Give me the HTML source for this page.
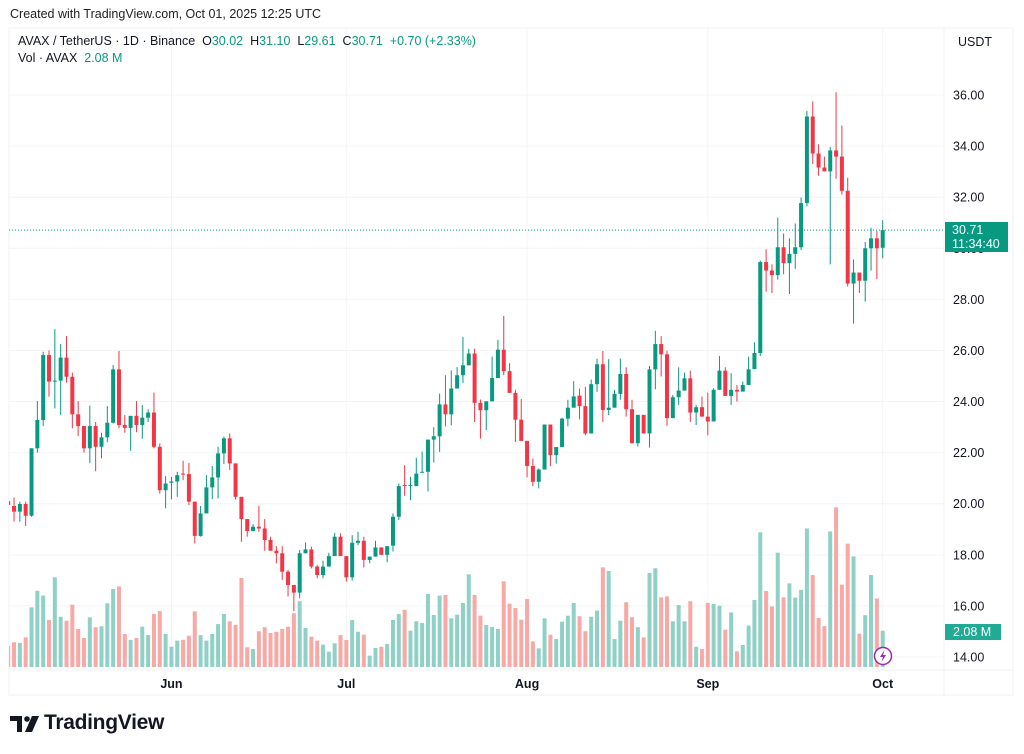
<!DOCTYPE html>
<html><head><meta charset="utf-8">
<style>
html,body{margin:0;padding:0;background:#fff;}
body{width:1024px;height:754px;position:relative;overflow:hidden;font-family:"Liberation Sans",Arial,sans-serif;}
.t{position:absolute;white-space:nowrap;}
</style></head>
<body>
<div class="t" style="left:10px;top:7px;font-size:12.5px;color:#222;">Created with TradingView.com, Oct 01, 2025 12:25 UTC</div>
<svg id="chart" width="1024" height="754" style="position:absolute;left:0;top:0;" xmlns="http://www.w3.org/2000/svg">
<rect x="9" y="28" width="1004" height="667" fill="none" stroke="#eef0f3" stroke-width="1"/>
<g id="grid"></g>
<g id="vol"></g>
<g id="candles"></g>
<g id="axis"></g>
<g id="taxis"></g>
</svg>
<div class="t" style="left:18px;top:34px;font-size:12.5px;color:#131722;">AVAX / TetherUS · 1D · Binance&nbsp; O<span style="color:#089981">30.02</span>&nbsp; H<span style="color:#089981">31.10</span>&nbsp; L<span style="color:#089981">29.61</span>&nbsp; C<span style="color:#089981">30.71</span>&nbsp; <span style="color:#089981">+0.70 (+2.33%)</span></div>
<div class="t" style="left:18px;top:51px;font-size:12.5px;color:#131722;">Vol · AVAX&nbsp; <span style="color:#089981">2.08 M</span></div>
<div class="t" style="left:958px;top:35px;font-size:12.5px;color:#131722;">USDT</div>
<div class="t" style="left:945px;top:222px;width:63px;height:30px;background:#089981;color:#fff;font-size:12.5px;line-height:14px;padding-left:7px;box-sizing:border-box;padding-top:1px;">30.71<br>11:34:40</div>
<div class="t" style="left:945px;top:624px;width:56px;height:16px;background:#22ab94;color:#fff;font-size:12.5px;line-height:16px;padding-left:8px;box-sizing:border-box;">2.08 M</div>
<svg style="position:absolute;left:10px;top:716px" width="32" height="18" viewBox="0 0 32 18"><path d="M0 0h12v16h-5v-11h-7z" fill="#131722"/><circle cx="17" cy="3" r="2.8" fill="#131722"/><path d="M22 0h7l-7 16h-7z" fill="#131722"/></svg>
<div class="t" style="left:44px;top:711px;font-size:21px;font-weight:bold;color:#131722;letter-spacing:-0.3px;">TradingView</div>
<svg style="position:absolute;left:873px;top:646px" width="20" height="20"><circle cx="10" cy="10" r="8.5" fill="#fff" stroke="#9c27b0" stroke-width="1.5"/><path d="M11.5 4 L7 11 H10 L8.5 16 L13 9 H10 Z" fill="#9c27b0"/></svg>
<script>
var opens=[20.10,19.91,19.69,19.99,19.53,22.17,23.28,25.82,24.78,24.82,25.72,24.97,23.50,23.04,22.17,23.04,22.23,22.60,23.17,25.26,23.08,22.97,23.44,23.08,23.37,23.57,22.23,20.53,20.82,20.87,21.18,21.16,20.08,18.74,19.62,20.64,21.03,21.97,22.56,21.58,20.27,19.40,18.93,19.10,19.03,18.58,18.16,18.06,17.34,16.82,16.52,18.06,18.21,17.54,17.21,17.54,17.95,18.71,17.95,17.12,18.47,18.55,17.80,17.93,18.29,18.00,18.36,19.49,20.73,20.70,20.69,21.22,21.25,22.51,22.64,23.89,23.50,24.51,25.03,25.42,25.88,23.95,23.66,24.01,24.92,26.03,25.19,24.34,23.29,22.46,21.48,20.86,21.34,23.10,21.90,22.22,23.33,23.76,24.23,23.82,22.75,24.68,25.46,23.67,23.76,24.30,25.08,23.70,22.37,23.48,22.75,25.26,26.25,25.85,23.35,24.17,24.43,24.91,23.57,23.78,23.41,23.22,24.46,25.21,24.22,24.46,24.39,24.65,25.27,25.90,29.46,29.13,28.95,30.04,29.42,29.78,30.04,31.77,35.16,33.71,33.16,33.01,33.83,33.59,32.25,28.62,29.05,28.73,30.00,30.39,30.02];
var highs=[20.30,20.24,20.08,20.08,22.17,24.02,25.95,26.00,26.83,26.25,26.56,25.13,24.02,23.04,23.84,23.20,22.78,23.82,25.43,25.98,23.47,23.44,24.02,23.86,23.70,24.35,22.36,21.08,21.05,21.25,21.68,21.60,20.08,19.91,21.12,21.48,22.23,22.62,22.75,21.58,20.27,19.40,19.20,19.92,19.40,18.71,18.34,18.34,17.41,16.82,18.19,18.48,18.32,17.60,17.77,18.08,18.86,18.84,17.95,18.77,18.90,18.71,17.93,18.55,18.29,18.34,19.62,20.79,21.51,21.05,21.80,22.04,22.51,23.00,24.31,25.03,25.22,25.35,26.53,26.07,26.07,24.08,24.01,25.76,26.42,27.35,25.50,24.46,24.10,22.46,21.77,21.38,23.10,23.10,22.22,23.37,24.07,24.80,24.51,24.58,24.86,25.68,25.98,25.66,24.45,25.68,25.34,24.07,23.48,22.75,25.39,26.77,26.56,25.99,24.26,25.34,25.13,25.21,23.87,24.20,24.35,24.52,25.78,25.34,25.11,24.65,24.78,25.76,26.32,29.52,29.96,29.37,31.20,30.58,30.39,30.97,31.99,35.38,35.75,34.07,33.59,33.97,36.11,34.80,32.76,29.56,29.05,30.25,30.80,30.68,31.10];
var lows=[19.75,19.30,19.30,19.13,19.49,22.00,23.04,24.19,23.73,23.47,24.74,22.95,22.65,22.00,21.59,21.27,21.78,22.41,23.14,22.95,22.78,22.07,22.80,22.54,23.20,22.17,20.40,19.82,20.17,20.27,20.92,19.95,18.45,18.71,19.62,20.18,20.21,21.55,21.32,20.17,18.51,18.71,18.93,18.90,18.16,18.16,17.67,17.02,16.37,15.80,16.30,18.06,17.47,17.08,17.08,17.54,17.95,17.95,16.95,16.99,18.38,17.51,17.67,17.93,18.00,17.71,18.13,19.36,20.31,20.14,20.69,21.22,20.48,21.61,22.03,23.03,23.07,24.51,24.73,25.42,23.20,22.55,22.88,24.01,24.92,25.03,24.34,22.42,22.46,21.03,20.69,20.60,21.34,21.47,21.57,22.22,23.03,23.76,23.30,22.68,22.75,24.38,23.20,23.47,23.76,24.07,23.41,22.37,22.24,22.75,22.20,24.48,24.98,23.05,23.35,23.87,24.43,23.20,23.08,23.41,22.68,23.22,24.46,24.22,23.87,24.00,24.39,24.65,25.27,25.78,28.30,28.25,28.77,28.98,28.21,29.20,29.93,31.64,33.30,32.84,33.01,29.37,32.72,32.10,28.50,27.05,28.25,27.91,29.13,28.79,29.61];
var closes=[19.95,19.69,19.99,19.53,22.17,23.28,25.82,24.78,24.82,25.72,24.97,23.50,23.04,22.17,23.04,22.23,22.60,23.17,25.26,23.08,22.97,23.44,23.08,23.37,23.57,22.23,20.53,20.79,20.87,21.12,21.16,20.08,18.74,19.62,20.64,21.03,21.97,22.56,21.58,20.27,19.40,18.93,19.10,19.03,18.58,18.16,18.06,17.34,16.82,16.52,18.06,18.21,17.54,17.21,17.54,17.95,18.71,17.95,17.12,18.47,18.55,17.80,17.93,18.29,18.00,18.34,19.49,20.69,20.70,20.73,21.18,21.25,22.51,22.64,23.89,23.50,24.51,25.03,25.42,25.88,23.95,23.66,24.01,24.92,26.03,25.19,24.34,23.29,22.46,21.48,20.86,21.34,23.10,21.90,22.22,23.33,23.76,24.20,23.82,22.75,24.68,25.46,23.67,23.76,24.30,25.08,23.70,22.37,23.48,22.75,25.26,26.25,25.85,23.35,24.17,24.43,24.91,23.57,23.78,23.41,23.22,24.46,25.21,24.22,24.46,24.39,24.65,25.26,25.90,29.46,29.13,28.95,30.04,29.42,29.78,30.04,31.77,35.16,33.71,33.16,33.01,33.83,33.59,32.25,28.62,29.05,28.73,30.00,30.39,30.00,30.71];
var volumes=[1.20,1.42,1.38,1.70,3.42,4.37,4.09,2.69,5.14,2.88,2.65,3.57,2.18,1.66,2.85,2.28,2.33,3.65,4.47,4.62,1.89,1.55,1.66,2.31,1.83,3.04,3.21,1.89,1.16,1.51,1.56,1.79,3.19,1.83,1.51,1.89,2.46,3.04,2.62,2.41,5.10,1.13,1.03,2.05,2.28,1.95,2.02,2.18,2.31,3.08,3.77,2.24,1.74,1.51,1.28,0.88,1.36,1.83,1.55,2.69,2.02,1.85,0.65,1.09,1.16,1.32,2.69,3.04,3.28,2.08,2.62,2.52,4.18,2.98,4.09,4.13,2.79,3.00,3.67,5.31,4.13,2.94,2.41,2.29,2.18,4.91,3.63,3.38,2.71,3.90,1.47,1.07,2.79,1.85,1.60,2.60,2.94,3.67,2.91,2.05,2.88,3.23,5.71,5.50,1.60,2.65,3.71,2.85,2.28,1.70,5.39,5.66,3.99,4.05,2.62,3.55,2.62,3.77,1.16,1.03,3.67,3.61,3.51,2.14,3.13,0.90,1.26,2.37,3.84,7.72,4.36,3.47,6.55,3.99,4.79,3.98,4.42,7.94,5.27,2.81,2.34,7.77,9.15,4.72,7.07,6.34,1.91,2.97,5.27,3.93,2.08];
var priceTicks=[14,16,18,20,22,24,26,28,30,32,34,36];
var monthLabels=["Jun","Jul","Aug","Sep","Oct"];
var monthIndex=[28,58,89,120,150];
var lastPrice=30.71;

var NS="http://www.w3.org/2000/svg";
function X(i){return 8.2+i*5.83;}
function Y(p){return 657-(p-14)*25.545;}
function VH(v){return v*17.45;}
var VBASE=667;
function mk(tag,attrs,parent){var e=document.createElementNS(NS,tag);for(var k in attrs)e.setAttribute(k,attrs[k]);parent.appendChild(e);return e;}
var grid=document.getElementById('grid'),vol=document.getElementById('vol'),cg=document.getElementById('candles'),ax=document.getElementById('axis'),tx=document.getElementById('taxis');
var svg=document.getElementById('chart');
var cp=mk('clipPath',{id:'plotclip'},svg);mk('rect',{x:9,y:28,width:935,height:642},cp);
vol.setAttribute('clip-path','url(#plotclip)');cg.setAttribute('clip-path','url(#plotclip)');
priceTicks.forEach(function(p){
  var l=mk('line',{x1:9,x2:944,y1:Y(p),y2:Y(p),stroke:'#f3f4f6','stroke-width':1},grid);
  
  
  if(Math.abs(Y(p)-Y(lastPrice))<14)return;
  var t=mk('text',{x:953,y:Y(p)+4.5,'font-size':12.5,fill:'#131722','font-family':'Liberation Sans, sans-serif'},ax);
  t.textContent=p.toFixed(2);
  
  
});
monthIndex.forEach(function(i,k){
  var l=mk('line',{x1:X(i),x2:X(i),y1:28,y2:670,stroke:'#f3f4f6','stroke-width':1},grid);
  
  
  var t=mk('text',{x:X(i),y:688,'font-size':12.5,'font-weight':'bold',fill:'#131722','text-anchor':'middle','font-family':'Liberation Sans, sans-serif'},tx);
  t.textContent=monthLabels[k];
  
  
});
mk('line',{x1:9,x2:1013,y1:670,y2:670,stroke:'#f0f1f3'},grid);
mk('line',{x1:944,x2:944,y1:28,y2:695,stroke:'#f0f1f3'},grid);
var dl=mk('line',{x1:9,x2:944,y1:Y(lastPrice),y2:Y(lastPrice),stroke:'#089981','stroke-width':1,'stroke-dasharray':'1 2'},cg);


for(var i=0;i<closes.length;i++){
  var up=closes[i]>=opens[i];
  var x=X(i);
  var vb=mk('rect',{x:x-2,y:VBASE-VH(volumes[i]),width:4,height:VH(volumes[i]),fill:up?'#8fd1c6':'#f8a9a6'},vol);
  
  
  var col=up?'#089981':'#f23645';
  var w=mk('line',{x1:x,x2:x,y1:Y(highs[i]),y2:Y(lows[i]),stroke:col,'stroke-width':1},cg);
  
  
  var bTop=Y(Math.max(opens[i],closes[i])),bBot=Y(Math.min(opens[i],closes[i]));
  var b=mk('rect',{x:x-2,y:bTop,width:4,height:Math.max(1,bBot-bTop),fill:col},cg);
  
  
}
</script>
</body></html>
